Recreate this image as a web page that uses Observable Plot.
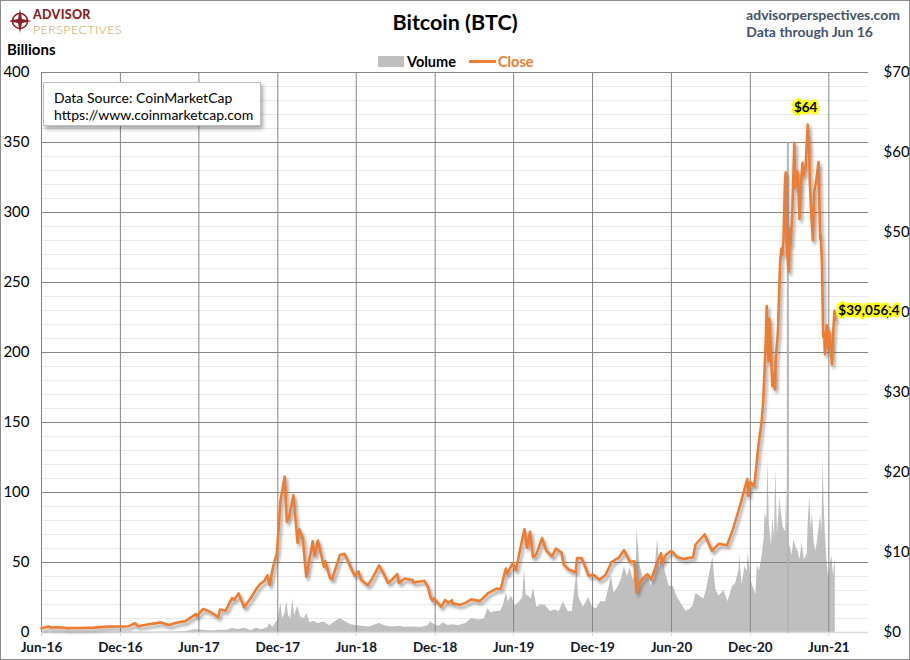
<!DOCTYPE html>
<html>
<head>
<meta charset="utf-8">
<script src="https://cdn.jsdelivr.net/npm/d3@7"></script>
<script src="https://cdn.jsdelivr.net/npm/@observablehq/plot@0.6"></script>
<style>
  body { margin: 0; background: #fff; font-family: Lato, "Open Sans", sans-serif; }
  #wrap { position: relative; width: 910px; height: 660px; overflow: hidden; background: #fff; }
  #chart { position: absolute; left: 0; top: 0; }
  #frame { position: absolute; left: 0; top: 0; width: 908px; height: 658px; border: 1px solid #8c8c8c; pointer-events: none; }
  .abs { position: absolute; white-space: nowrap; }
  #title { left: 0; width: 910px; top: 9px; text-align: center; font-size: 21.5px; font-weight: bold; color: #000; }
  #site { right: 10px; top: 6px; font-size: 14px; font-weight: bold; color: #44546a; }
  #thru { right: 37px; top: 23px; font-size: 14px; font-weight: bold; color: #44546a; }
  #billions { left: 7px; top: 40px; font-size: 15px; font-weight: bold; color: #000; }
  #legend { left: 378px; top: 53px; font-size: 14.5px; font-weight: bold; display: flex; align-items: center; }
  #source { left: 43px; top: 82px; width: 218px; height: 44px; background: #fff; border: 1px solid #bfbfbf;
            box-shadow: 2px 3px 4px rgba(0,0,0,0.35); font-size: 14px; color: #000; line-height: 17px; padding: 6px 0 0 10px; box-sizing: border-box; }
  #logo { left: 10px; top: 4px; }
</style>
</head>
<body>
<div id="wrap">
  <div id="chart"></div>
  <svg id="logo" class="abs" width="130" height="34" viewBox="0 0 130 34">
    <circle cx="10" cy="17" r="7.5" fill="none" stroke="#8b1e24" stroke-width="1.6"/>
    <polygon points="10,5 12,15 22,17 12,19 10,29 8,19 -2,17 8,15" fill="#8b1e24"/>
    <text font-family="Lato, sans-serif"><tspan x="23" y="15" font-weight="900" font-size="12.5" letter-spacing="0.3" fill="#8b1e24">ADVISOR</tspan><tspan x="23" y="29.5" font-weight="300" font-size="12.5" letter-spacing="0.4" fill="#c6a35a">PERSPECTIVES</tspan></text>
  </svg>
  <div id="title" class="abs">Bitcoin (BTC)</div>
  <div id="site" class="abs">advisorperspectives.com</div>
  <div id="thru" class="abs">Data through Jun 16</div>
  <div id="billions" class="abs">Billions</div>
  <div id="legend" class="abs">
    <span style="display:inline-block;width:26px;height:11px;background:#bfbfbf;margin-right:3px"></span>
    <span style="color:#000">Volume</span>
    <span style="display:inline-block;width:27px;height:2.5px;background:#ed7d31;margin-left:13px;margin-right:2px"></span>
    <span style="color:#ed7d31">Close</span>
  </div>
  <div id="source" class="abs">Data Source: CoinMarketCap<br>https://www.coinmarketcap.com</div>
  <div id="frame"></div>
</div>
<script>
// ---- Data ----
// Close price, thousands of US dollars (right axis)
const closeDates = [
  "2016-06-01","2016-06-17","2016-06-23","2016-07-08","2016-08-02","2016-09-01","2016-10-01","2016-11-01","2016-12-01","2016-12-20",
  "2017-01-04","2017-01-11","2017-02-01","2017-02-23","2017-03-03","2017-03-24","2017-04-10","2017-05-01","2017-05-25","2017-05-27",
  "2017-06-11","2017-06-27","2017-07-16","2017-07-20","2017-08-02","2017-08-17","2017-08-22","2017-09-01","2017-09-14","2017-09-30",
  "2017-10-12","2017-10-20","2017-10-31","2017-11-07","2017-11-12","2017-11-20","2017-11-29","2017-12-07","2017-12-17","2017-12-22",
  "2017-12-28","2018-01-06","2018-01-16","2018-01-20","2018-01-28","2018-02-05","2018-02-20","2018-02-24","2018-03-04","2018-03-18",
  "2018-03-21","2018-04-01","2018-04-06","2018-04-24","2018-05-05","2018-05-28","2018-06-06","2018-06-12","2018-06-28","2018-07-08",
  "2018-07-24","2018-08-01","2018-08-14","2018-08-21","2018-09-04","2018-09-08","2018-09-21","2018-10-10","2018-10-11","2018-11-06",
  "2018-11-14","2018-11-20","2018-11-25","2018-11-28","2018-12-15","2018-12-24","2018-12-31","2019-01-09","2019-01-10","2019-01-28",
  "2019-02-08","2019-02-23","2019-03-15","2019-04-02","2019-04-23","2019-05-02","2019-05-14","2019-05-17","2019-05-30","2019-06-06",
  "2019-06-26","2019-07-02","2019-07-09","2019-07-16","2019-07-24","2019-08-06","2019-08-15","2019-08-29","2019-09-07","2019-09-20",
  "2019-09-25","2019-10-06","2019-10-23","2019-10-26","2019-11-06","2019-11-22","2019-12-04","2019-12-17","2019-12-31","2020-01-08",
  "2020-01-14","2020-01-31","2020-02-12","2020-02-26","2020-03-07","2020-03-12","2020-03-19","2020-03-26","2020-04-06","2020-04-15",
  "2020-04-29","2020-05-08","2020-05-10","2020-05-19","2020-06-01","2020-06-15","2020-07-01","2020-07-21","2020-07-27","2020-08-17",
  "2020-09-03","2020-09-19","2020-10-08","2020-10-21","2020-11-05","2020-11-24","2020-11-26","2020-12-01","2020-12-10","2020-12-16",
  "2020-12-20","2020-12-27","2020-12-31","2021-01-03","2021-01-06","2021-01-08","2021-01-11","2021-01-12","2021-01-14","2021-01-17",
  "2021-01-21","2021-01-24","2021-01-27","2021-01-29","2021-02-03","2021-02-08","2021-02-11","2021-02-13","2021-02-16","2021-02-19",
  "2021-02-21","2021-02-23","2021-02-26","2021-02-28","2021-03-03","2021-03-04","2021-03-08","2021-03-13","2021-03-15","2021-03-18",
  "2021-03-21","2021-03-25","2021-03-28","2021-04-01","2021-04-03","2021-04-06","2021-04-08","2021-04-13","2021-04-16","2021-04-18",
  "2021-04-22","2021-04-25","2021-04-28","2021-05-03","2021-05-08","2021-05-12","2021-05-13","2021-05-16","2021-05-19","2021-05-21",
  "2021-05-23","2021-05-27","2021-05-30","2021-06-02","2021-06-05","2021-06-08","2021-06-11","2021-06-14","2021-06-16"
];
const closeValues = [
  0.54,0.75,0.63,0.66,0.55,0.57,0.61,0.73,0.75,0.79,
  1.15,0.78,0.99,1.17,1.28,0.94,1.21,1.42,2.30,2.04,
  2.96,2.59,1.93,2.87,2.73,4.30,4.09,4.89,3.15,4.34,
  5.43,6.01,6.47,7.14,5.95,8.20,9.89,16.40,19.50,13.83,
  14.6,17.17,11.20,12.9,11.79,6.96,11.40,9.6,11.5,8.22,
  8.9,6.84,6.64,9.70,9.84,7.11,7.65,6.59,5.90,6.74,
  8.40,7.6,6.20,6.5,7.30,6.20,6.75,6.55,6.25,6.46,
  5.74,4.45,3.94,4.28,3.24,4.05,3.74,4.03,3.63,3.46,
  3.67,4.14,3.92,4.88,5.50,5.40,7.99,7.36,8.66,7.79,
  12.9,10.6,12.6,9.4,9.8,11.8,10.3,9.5,10.5,10.0,
  8.5,7.9,7.5,9.3,9.3,7.1,7.2,6.6,7.2,8.1,
  8.8,9.35,10.3,8.8,8.9,4.97,6.2,6.7,7.3,6.6,
  8.8,9.9,8.6,9.7,10.2,9.4,9.2,9.4,11.0,12.25,
  10.2,11.1,10.9,12.8,15.5,19.2,17.1,18.8,18.3,21.3,
  23.5,26.3,29.0,32.8,36.8,40.8,35.6,33.9,39.2,36.0,
  30.8,32.3,30.4,34.3,37.6,46.2,48.0,47.2,49.2,55.9,
  57.5,48.8,46.3,45.1,50.5,48.4,52.2,61.2,55.6,57.7,
  57.4,51.7,55.8,58.7,57.1,58.1,58.1,63.5,61.3,56.2,
  51.7,49.0,55.0,56.6,58.8,49.2,49.7,46.4,37.0,37.5,
  34.8,38.4,35.7,37.6,35.5,33.5,37.3,40.2,39.06
];
// Trading volume, billions of US dollars (left axis)
const volumeDates = [
  "2016-06-01","2016-06-17","2016-08-01","2016-10-01","2016-12-01","2017-01-05","2017-02-01","2017-03-01","2017-04-01","2017-05-01",
  "2017-05-25","2017-06-10","2017-07-01","2017-07-20","2017-08-05","2017-08-17","2017-09-01","2017-09-15","2017-10-01","2017-10-12",
  "2017-10-25","2017-11-08","2017-11-12","2017-11-20","2017-11-29","2017-12-01","2017-12-08","2017-12-12","2017-12-17","2017-12-22",
  "2017-12-26","2017-12-31","2018-01-05","2018-01-09","2018-01-16","2018-01-23","2018-02-01","2018-02-06","2018-02-14","2018-02-22",
  "2018-03-05","2018-03-18","2018-04-01","2018-04-12","2018-04-25","2018-05-05","2018-05-20","2018-06-01","2018-06-15","2018-07-01",
  "2018-07-24","2018-08-10","2018-08-25","2018-09-10","2018-09-20","2018-10-15","2018-10-30","2018-11-15","2018-11-20","2018-11-30",
  "2018-12-10","2018-12-20","2018-12-31","2019-01-10","2019-01-25","2019-02-10","2019-02-24","2019-03-10","2019-03-25","2019-04-02",
  "2019-04-10","2019-04-20","2019-05-01","2019-05-08","2019-05-15","2019-05-20","2019-05-27","2019-06-05","2019-06-15","2019-06-22",
  "2019-06-26","2019-06-30","2019-07-05","2019-07-12","2019-07-17","2019-07-25","2019-08-05","2019-08-15","2019-08-25","2019-09-05",
  "2019-09-15","2019-09-24","2019-10-05","2019-10-15","2019-10-26","2019-10-30","2019-11-10","2019-11-22","2019-12-01","2019-12-10",
  "2019-12-20","2019-12-31","2020-01-08","2020-01-14","2020-01-20","2020-01-30","2020-02-06","2020-02-13","2020-02-20","2020-02-26",
  "2020-03-05","2020-03-12","2020-03-13","2020-03-20","2020-03-28","2020-04-06","2020-04-15","2020-04-22","2020-04-30","2020-05-05",
  "2020-05-10","2020-05-18","2020-05-27","2020-06-05","2020-06-15","2020-06-25","2020-07-05","2020-07-15","2020-07-21","2020-07-28",
  "2020-08-05","2020-08-15","2020-08-21","2020-09-05","2020-09-12","2020-09-20","2020-10-01","2020-10-10","2020-10-21","2020-10-28",
  "2020-11-05","2020-11-06","2020-11-12","2020-11-18","2020-11-24","2020-11-26","2020-12-02","2020-12-08","2020-12-14","2020-12-17",
  "2020-12-22","2020-12-28","2021-01-02","2021-01-04","2021-01-08","2021-01-11","2021-01-14","2021-01-19","2021-01-22","2021-01-26",
  "2021-01-29","2021-02-02","2021-02-08","2021-02-10","2021-02-15","2021-02-21","2021-02-23","2021-02-25","2021-02-26","2021-02-27",
  "2021-03-03","2021-03-08","2021-03-12","2021-03-18","2021-03-22","2021-03-26","2021-03-31","2021-04-05","2021-04-12","2021-04-14",
  "2021-04-18","2021-04-21","2021-04-24","2021-04-28","2021-05-02","2021-05-06","2021-05-10","2021-05-13","2021-05-16","2021-05-19",
  "2021-05-21","2021-05-24","2021-05-28","2021-06-01","2021-06-04","2021-06-08","2021-06-12","2021-06-15","2021-06-16"
];
const volumeValues = [
  0.1,0.2,0.1,0.1,0.1,0.3,0.15,0.3,0.4,0.7,
  1.9,1.6,1.0,1.6,1.5,2.8,2.2,3.0,1.2,3.0,
  2.0,3.5,6.5,3.5,8.0,8,21,10,13,22,
  12,10,24,12,19,11,10,13.5,7,8,
  6.5,7.5,4.8,7.5,10,8,5.5,5.0,4.5,4.0,
  6.5,4.5,4.0,4.5,3.8,4.0,3.5,5.0,7.5,5.5,
  4.5,7.0,5.0,5.5,5.0,6.5,10,9,9.5,17,
  14,15,15,19,28,22,26,19,22,25,
  45,27,26,24,32,18,20,19,15,16,
  15,22,15,15,44,25,18,25,18,17,
  22,22,32,40,28,33,38,47,40,46,
  37,53,74,48,38,42,33,38,67,45,
  56,43,33,33,25,20,15,17,19,28,
  26,24,30,54,30,26,30,22,33,35,
  45,56,34,47,44,58,38,32,27,48,
  44,54,67,85,80,123,78,62,82,68,
  117,70,97,88,75,72,106,70,350,62,
  62,55,66,60,58,52,64,52,56,78,
  98,74,85,64,58,66,76,84,72,126,
  92,70,50,38,48,55,40,52,46
];
// Axis ticks
const xTickDates = ["2016-06-01","2016-12-01","2017-06-01","2017-12-01","2018-06-01","2018-12-01","2019-06-01","2019-12-01","2020-06-01","2020-12-01","2021-06-01"];
const leftTicks = [0,50,100,150,200,250,300,350,400];
const rightTicks = [0,10,20,30,40,50,60,70];
const peakLabel = { date: "2021-04-13", value: 63.5, text: "$64" };
const lastLabel = { date: "2021-06-16", value: 39.06, text: "$39,056.4" };

// ---- Build tables ----
const K = 400 / 70; // thousands of dollars -> left-axis units
const price = closeDates.map((d, i) => ({ date: new Date(d), close: closeValues[i] }));
const volume = volumeDates.map((d, i) => ({ date: new Date(d), vol: volumeValues[i] }));
const spikes = volume.filter(d => d.vol > 150);
const xTicks = xTickDates.map(d => new Date(d));
const minor = d3.range(10, 400, 10).filter(v => v % 50 !== 0);

const chart = Plot.plot({
  width: 910, height: 660,
  marginLeft: 41, marginRight: 42, marginTop: 72, marginBottom: 28,
  x: { type: "utc", domain: [new Date("2016-06-01"), new Date("2021-09-01")] },
  y: { type: "linear", domain: [0, 400] },
  style: { fontFamily: "Lato, 'Open Sans', sans-serif", background: "transparent", overflow: "visible" },
  marks: [
    Plot.ruleY(minor, { stroke: "#e9e9e9", strokeWidth: 1 }),
    Plot.areaY(volume, { x: "date", y: "vol", fill: "#bfbfbf", curve: "linear" }),
    Plot.ruleY(leftTicks.filter(v => v > 0), { stroke: "#858585", strokeWidth: 1 }),
    Plot.ruleX(xTicks, { stroke: "#858585", strokeWidth: 1 }),
    Plot.ruleY([0], { stroke: "#d9d9d9", strokeWidth: 1.5 }),
    // single-day volume outlier drawn as a thin spike
    Plot.link(spikes, { x1: "date", x2: "date", y1: () => 0, y2: "vol", stroke: "#b4b4b4", strokeWidth: 2 }),
    Plot.lineY(price, { x: "date", y: d => d.close * K, stroke: "#ed7d31", strokeWidth: 2.6, strokeLinejoin: "round" }),
    Plot.axisY(leftTicks, { anchor: "left", tickSize: 0, tickPadding: 12, fontSize: 15, color: "#000", label: null }),
    Plot.axisY(rightTicks.map(v => v * K), { anchor: "right", tickSize: 0, tickPadding: 15, fontSize: 15, color: "#000", label: null,
      tickFormat: v => "$" + Math.round(v / K), textAnchor: "start" }),
    Plot.axisX(xTicks, { anchor: "bottom", tickSize: 4, tickPadding: 6, fontSize: 13.5, fontWeight: "bold", color: "#111827", stroke: "#d9d9d9", label: null,
      tickFormat: d3.utcFormat("%b-%y") }),
    Plot.text([peakLabel], { x: d => new Date(d.date), y: d => d.value * K, text: "text", dx: -2, dy: -17,
      fontSize: 13.5, fontWeight: "bold", fill: "#000", stroke: "#ffff00", strokeWidth: 5, strokeLinejoin: "round" }),
    Plot.text([lastLabel], { x: d => new Date(d.date), y: d => d.value * K, text: "text", textAnchor: "start", dx: 3, dy: -9,
      fontSize: 13.5, fontWeight: "bold", fill: "#000", stroke: "#ffff00", strokeWidth: 5, strokeLinejoin: "round" })
  ]
});

// drop shadow for the close line
const ns = "http://www.w3.org/2000/svg";
const defs = document.createElementNS(ns, "defs");
defs.innerHTML = '<filter id="sh" x="-5%" y="-5%" width="110%" height="115%"><feDropShadow dx="2" dy="3" stdDeviation="1.6" flood-color="#555" flood-opacity="0.55"/></filter>';
chart.insertBefore(defs, chart.firstChild);
const lineG = chart.querySelector('g[aria-label="line"]');
if (lineG) lineG.setAttribute("filter", "url(#sh)");

document.getElementById("chart").appendChild(chart);
</script>
</body>
</html>
